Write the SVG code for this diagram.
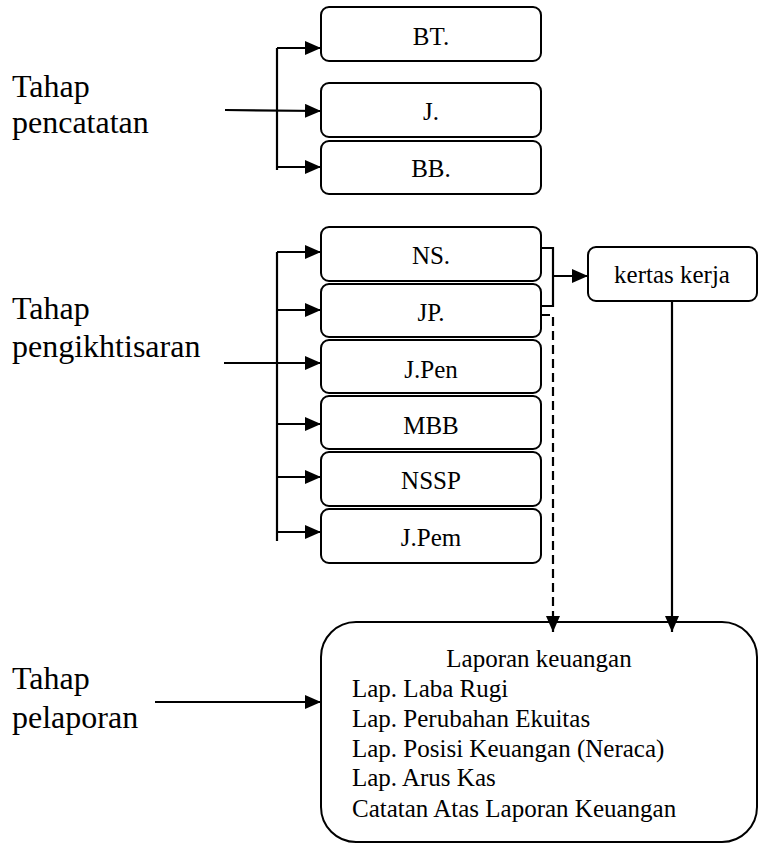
<svg xmlns="http://www.w3.org/2000/svg" width="759" height="844" viewBox="0 0 759 844">
<style>
.box{fill:#fff;stroke:#000;stroke-width:2}
.ln{fill:none;stroke:#000;stroke-width:2.2}
.dash{fill:none;stroke:#000;stroke-width:2.2;stroke-dasharray:9,5}
.t{font-family:"Liberation Serif","Times New Roman",serif;fill:#000}
.lbl{font-size:25px;text-anchor:middle}
.side{font-size:32px}
.rep{font-size:25px}
</style>
<defs>
<marker id="ah" markerUnits="userSpaceOnUse" markerWidth="16" markerHeight="14" refX="16" refY="7" orient="auto">
<path d="M0,0 L16,7 L0,14 z" fill="#000"/>
</marker>
</defs>
<rect width="759" height="844" fill="#fff"/>
<g id="label-pencatatan" class="t side">
<text x="12" y="97">Tahap</text>
<text x="12" y="133">pencatatan</text>
</g>
<g id="label-pengikhtisaran" class="t side">
<text x="12" y="319">Tahap</text>
<text x="12" y="357">pengikhtisaran</text>
</g>
<g id="label-pelaporan" class="t side">
<text x="12" y="689">Tahap</text>
<text x="12" y="728">pelaporan</text>
</g>
<g id="node-bt"><rect class="box" x="321" y="7" width="220" height="54" rx="8"/><text class="t lbl" x="431" y="45">BT.</text></g>
<g id="node-j"><rect class="box" x="321" y="83" width="220" height="54" rx="8"/><text class="t lbl" x="431" y="120">J.</text></g>
<g id="node-bb"><rect class="box" x="321" y="141" width="220" height="53" rx="8"/><text class="t lbl" x="431" y="177">BB.</text></g>
<g id="node-ns"><rect class="box" x="321" y="227" width="220" height="54" rx="8"/><text class="t lbl" x="431" y="264">NS.</text></g>
<g id="node-jp"><rect class="box" x="321" y="284" width="220" height="53" rx="8"/><text class="t lbl" x="431" y="321">JP.</text></g>
<g id="node-jpen"><rect class="box" x="321" y="340" width="220" height="53" rx="8"/><text class="t lbl" x="431" y="378">J.Pen</text></g>
<g id="node-mbb"><rect class="box" x="321" y="396" width="220" height="53" rx="8"/><text class="t lbl" x="431" y="434">MBB</text></g>
<g id="node-nssp"><rect class="box" x="321" y="452" width="220" height="54" rx="8"/><text class="t lbl" x="431" y="489">NSSP</text></g>
<g id="node-jpem"><rect class="box" x="321" y="509" width="220" height="54" rx="8"/><text class="t lbl" x="431" y="546">J.Pem</text></g>
<g id="node-kertas"><rect class="box" x="588" y="247" width="169" height="54" rx="8"/><text class="t lbl" x="672" y="283">kertas kerja</text></g>
<g id="node-laporan">
<rect class="box" x="321" y="622" width="436" height="220" rx="35"/>
<text class="t rep" x="539" y="667" text-anchor="middle">Laporan keuangan</text>
<text class="t rep" x="352" y="697">Lap. Laba Rugi</text>
<text class="t rep" x="352" y="727">Lap. Perubahan Ekuitas</text>
<text class="t rep" x="352" y="757">Lap. Posisi Keuangan (Neraca)</text>
<text class="t rep" x="352" y="786">Lap. Arus Kas</text>
<text class="t rep" x="352" y="817">Catatan Atas Laporan Keuangan</text>
</g>
<g id="connectors">
<path class="ln" d="M277,48 V170"/>
<path class="ln" d="M277,48 H321" marker-end="url(#ah)"/>
<path class="ln" d="M225,110 L321,111" marker-end="url(#ah)"/>
<path class="ln" d="M277,167 H321" marker-end="url(#ah)"/>
<path class="ln" d="M277,252 V541"/>
<path class="ln" d="M277,252 H321" marker-end="url(#ah)"/>
<path class="ln" d="M277,310 H321" marker-end="url(#ah)"/>
<path class="ln" d="M224,363 H321" marker-end="url(#ah)"/>
<path class="ln" d="M277,424 H321" marker-end="url(#ah)"/>
<path class="ln" d="M277,477 H321" marker-end="url(#ah)"/>
<path class="ln" d="M277,532 H321" marker-end="url(#ah)"/>
<path class="ln" d="M541,248 H553 V306 H541"/>
<path class="ln" d="M553,276 H588" marker-end="url(#ah)"/>
<path class="dash" d="M541,315 H553 V632" marker-end="url(#ah)"/>
<path class="ln" d="M672,301 V632" marker-end="url(#ah)"/>
<path class="ln" d="M155,702 H321" marker-end="url(#ah)"/>
</g>
</svg>
